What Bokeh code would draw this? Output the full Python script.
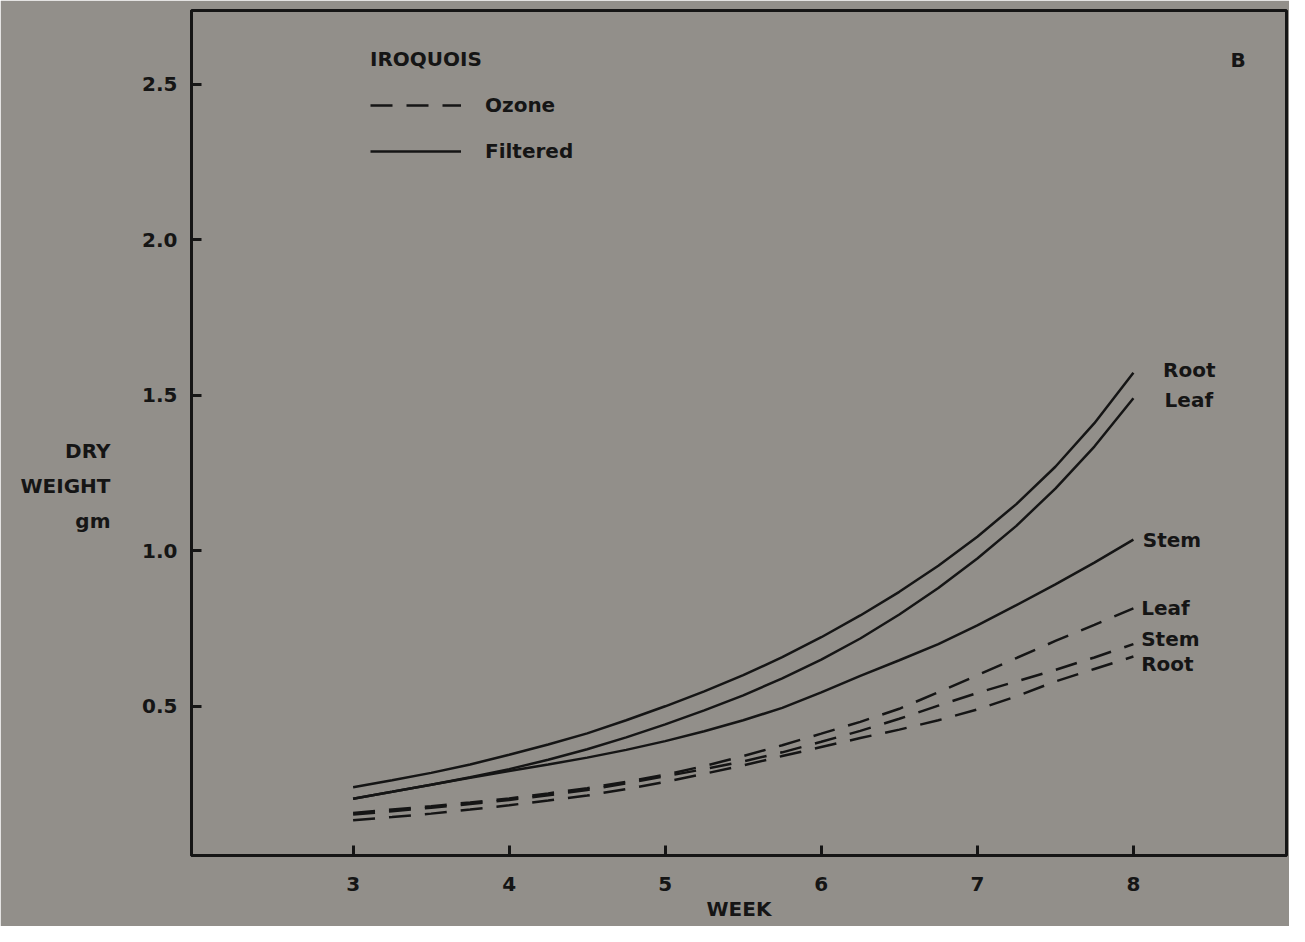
from bokeh.plotting import figure
from bokeh.models import Range1d, FixedTicker, Legend, LegendItem, Label, LinearAxis
from bokeh.core.properties import value
from bokeh.embed import file_html
from bokeh.resources import INLINE

# ---- data ----
weeks = [3.00, 3.25, 3.50, 3.75, 4.00, 4.25, 4.50, 4.75, 5.00, 5.25, 5.50,
         5.75, 6.00, 6.25, 6.50, 6.75, 7.00, 7.25, 7.50, 7.75, 8.00]
filtered_root = [0.240, 0.262, 0.286, 0.313, 0.344, 0.377, 0.413, 0.455, 0.500, 0.548, 0.600,
                 0.658, 0.722, 0.792, 0.868, 0.952, 1.045, 1.150, 1.270, 1.410, 1.572]
filtered_leaf = [0.203, 0.225, 0.248, 0.272, 0.298, 0.328, 0.362, 0.400, 0.442, 0.487, 0.535,
                 0.590, 0.650, 0.718, 0.795, 0.880, 0.975, 1.080, 1.200, 1.335, 1.490]
filtered_stem = [0.203, 0.225, 0.248, 0.270, 0.292, 0.313, 0.335, 0.360, 0.388, 0.420, 0.455,
                 0.495, 0.545, 0.598, 0.648, 0.700, 0.760, 0.825, 0.892, 0.962, 1.036]
ozone_leaf = [0.157, 0.168, 0.179, 0.191, 0.204, 0.220, 0.237, 0.257, 0.280, 0.308, 0.340,
              0.375, 0.412, 0.450, 0.492, 0.545, 0.600, 0.655, 0.710, 0.762, 0.815]
ozone_stem = [0.152, 0.163, 0.174, 0.186, 0.199, 0.214, 0.231, 0.252, 0.275, 0.298, 0.323,
              0.352, 0.386, 0.421, 0.460, 0.502, 0.543, 0.580, 0.617, 0.657, 0.700]
ozone_root = [0.134, 0.144, 0.155, 0.168, 0.182, 0.197, 0.213, 0.234, 0.257, 0.283, 0.310,
              0.340, 0.369, 0.398, 0.425, 0.455, 0.490, 0.532, 0.580, 0.620, 0.660]

x_ticks = [3, 4, 5, 6, 7, 8]
x_tick_labels = ["3", "4", "5", "6", "7", "8"]
y_ticks = [0.5, 1.0, 1.5, 2.0, 2.5]
y_tick_labels = ["0.5", "1.0", "1.5", "2.0", "2.5"]

end_labels = ["Root", "Leaf", "Stem", "Leaf", "Stem", "Root"]

# ---- style ----
FONT = "DejaVu Sans"
BG = "#928f8a"
INK = "#151515"
FS = "20px"
DASH = "22 14"
LW = 2.5

p = figure(width=1289, height=926, output_backend="svg", toolbar_location=None,
           x_range=Range1d(1.9645, 8.981), y_range=Range1d(0.0204, 2.7366),
           min_border_left=191, min_border_right=3, min_border_top=10,
           min_border_bottom=71)
p.background_fill_color = BG
p.border_fill_color = BG
p.outline_line_color = INK
p.outline_line_width = 3
p.grid.visible = False

for ax in (p.xaxis[0], p.yaxis[0]):
    ax.axis_line_color = INK
    ax.axis_line_width = 3
    ax.major_tick_line_color = INK
    ax.major_tick_line_width = 3
    ax.major_tick_in = 10
    ax.major_tick_out = 0
    ax.minor_tick_line_color = None
    ax.major_label_text_font = FONT
    ax.major_label_text_font_style = "bold"
    ax.major_label_text_font_size = FS
    ax.major_label_text_color = INK

p.xaxis.ticker = FixedTicker(ticks=x_ticks)
p.xaxis.major_label_overrides = dict(zip(x_ticks, x_tick_labels))
p.xaxis.major_label_standoff = 21
p.xaxis.axis_label = "WEEK"
p.xaxis.axis_label_standoff = 3
p.xaxis.axis_label_text_font = FONT
p.xaxis.axis_label_text_font_style = "bold"
p.xaxis.axis_label_text_font_size = FS
p.xaxis.axis_label_text_color = INK
p.yaxis.ticker = FixedTicker(ticks=y_ticks)
p.yaxis.major_label_overrides = dict(zip(y_ticks, y_tick_labels))
p.yaxis.major_label_standoff = 14

# second, invisible left axis that only carries the horizontal y title;
# the leading blank lines move the three-line block below the frame's middle
lab_axis = LinearAxis(ticker=FixedTicker(ticks=[]),
                      axis_label="\n\n\nDRY\nWEIGHT\ngm",
                      axis_label_orientation="horizontal",
                      axis_line_color=None, major_tick_line_color=None,
                      minor_tick_line_color=None, axis_label_standoff=29,
                      axis_label_text_font=FONT, axis_label_text_font_style="bold",
                      axis_label_text_font_size=FS, axis_label_text_color=INK,
                      axis_label_text_line_height=1.46,
                      axis_label_text_align="center")
p.add_layout(lab_axis, "left")

r_f_root = p.line(weeks, filtered_root, line_width=LW, line_color=INK)
r_f_leaf = p.line(weeks, filtered_leaf, line_width=LW, line_color=INK)
r_f_stem = p.line(weeks, filtered_stem, line_width=LW, line_color=INK)
r_o_leaf = p.line(weeks, ozone_leaf, line_width=LW, line_color=INK, line_dash=DASH)
r_o_stem = p.line(weeks, ozone_stem, line_width=LW, line_color=INK, line_dash=DASH)
r_o_root = p.line(weeks, ozone_root, line_width=LW, line_color=INK, line_dash=DASH)

# end-of-line labels placed just right of each line's last point
ends = [filtered_root[-1], filtered_leaf[-1], filtered_stem[-1],
        ozone_leaf[-1], ozone_stem[-1], ozone_root[-1]]
dx = [0.19, 0.20, 0.06, 0.05, 0.05, 0.05]
dy = [0.01, -0.005, 0.0, 0.0, 0.015, -0.025]
lab_x = [weeks[-1] + d for d in dx]
lab_y = [e + d for e, d in zip(ends, dy)]
p.text(x=lab_x, y=lab_y, text=end_labels, text_font=value(FONT),
       text_font_style="bold", text_font_size=FS, text_color=INK,
       text_align="left", text_baseline="middle")

legend = Legend(items=[LegendItem(label="Ozone", renderers=[r_o_leaf]),
                       LegendItem(label="Filtered", renderers=[r_f_root])],
                title="IROQUOIS", location=(169, 679), orientation="vertical",
                background_fill_alpha=0, border_line_alpha=0, padding=10, margin=0,
                glyph_width=91, glyph_height=30, label_height=30, spacing=16,
                label_standoff=24, title_standoff=19,
                label_text_font=FONT, label_text_font_style="bold",
                label_text_font_size=FS, label_text_color=INK,
                title_text_font=FONT, title_text_font_style="bold",
                title_text_font_size=FS, title_text_color=INK)
p.add_layout(legend)

p.add_layout(Label(x=8.671, y=2.579, text="B", text_font=FONT, text_font_style="bold",
                   text_font_size=FS, text_color=INK, text_align="center",
                   text_baseline="middle"))

open("out.html", "w").write(file_html(p, INLINE))
